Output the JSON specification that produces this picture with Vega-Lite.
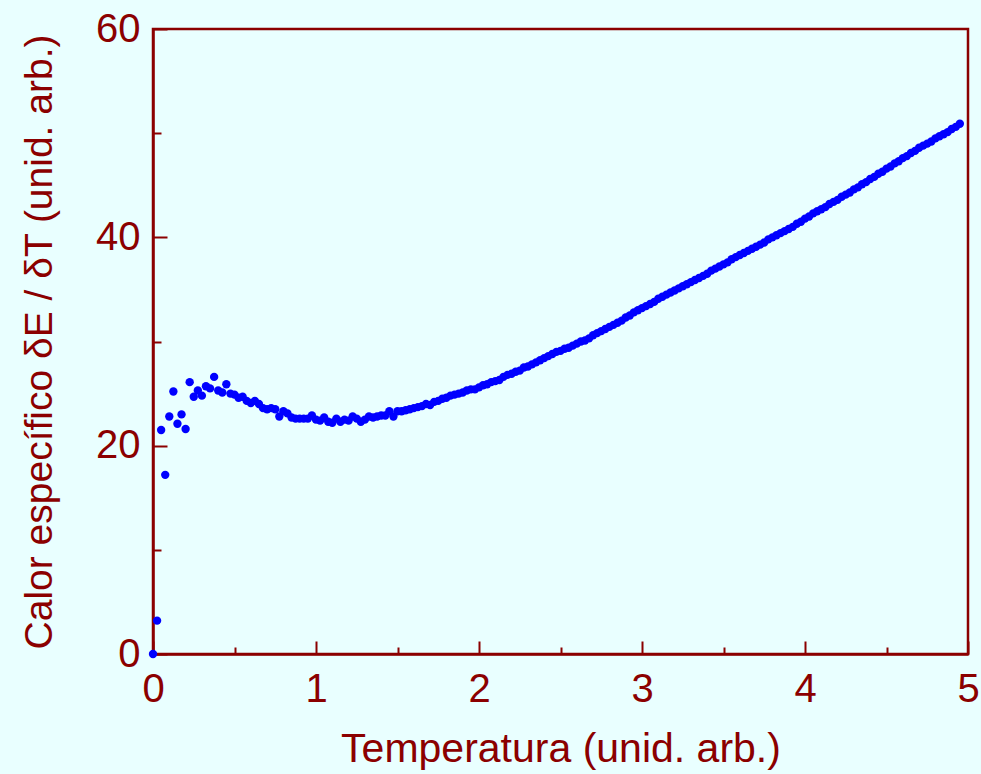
{
  "$schema": "https://vega.github.io/schema/vega-lite/v6.json",
  "width": 815,
  "height": 625,
  "autosize": {"type": "none"},
  "padding": {"left": 153, "top": 29, "right": 13, "bottom": 120},
  "background": "#E9FFFF",
  "config": {
    "view": {"stroke": "#8B0000", "strokeWidth": 2.5},
    "font": "Liberation Sans",
    "axis": {
      "domainColor": "#8B0000",
      "domainWidth": 2.5,
      "tickColor": "#8B0000",
      "tickWidth": 2,
      "labelColor": "#8B0000",
      "titleColor": "#8B0000",
      "labelFont": "Liberation Sans",
      "titleFont": "Liberation Sans",
      "labelFontSize": 40,
      "titleFontSize": 41,
      "titleFontWeight": "normal",
      "labelFlush": false,
      "labelOverlap": false,
      "labelBound": false,
      "grid": false
    }
  },
  "data": {
    "values": [
      {"T": 0.0, "C": 0}, {"T": 0.025, "C": 3.2}, {"T": 0.05, "C": 21.5}, {"T": 0.075, "C": 17.2},
      {"T": 0.1, "C": 22.8}, {"T": 0.125, "C": 25.2}, {"T": 0.15, "C": 22.1}, {"T": 0.175, "C": 23.0},
      {"T": 0.2, "C": 21.6}, {"T": 0.225, "C": 26.1}, {"T": 0.25, "C": 24.7}, {"T": 0.275, "C": 25.3},
      {"T": 0.3, "C": 24.8}, {"T": 0.325, "C": 25.7}, {"T": 0.35, "C": 25.5}, {"T": 0.375, "C": 26.6},
      {"T": 0.4, "C": 25.3}, {"T": 0.425, "C": 25.1}, {"T": 0.45, "C": 25.9}, {"T": 0.475, "C": 25.0},
      {"T": 0.5, "C": 24.9}, {"T": 0.525, "C": 24.6}, {"T": 0.55, "C": 24.7}, {"T": 0.575, "C": 24.3},
      {"T": 0.6, "C": 24.1}, {"T": 0.625, "C": 24.3}, {"T": 0.65, "C": 24.0}, {"T": 0.675, "C": 23.6},
      {"T": 0.7, "C": 23.5}, {"T": 0.725, "C": 23.6}, {"T": 0.75, "C": 23.5}, {"T": 0.775, "C": 22.8},
      {"T": 0.8, "C": 23.3}, {"T": 0.825, "C": 23.1}, {"T": 0.85, "C": 22.7}, {"T": 0.875, "C": 22.6},
      {"T": 0.9, "C": 22.6}, {"T": 0.925, "C": 22.6}, {"T": 0.95, "C": 22.6}, {"T": 0.975, "C": 22.9},
      {"T": 1.0, "C": 22.5}, {"T": 1.025, "C": 22.4}, {"T": 1.05, "C": 22.7}, {"T": 1.075, "C": 22.3},
      {"T": 1.1, "C": 22.2}, {"T": 1.125, "C": 22.6}, {"T": 1.15, "C": 22.3}, {"T": 1.175, "C": 22.5},
      {"T": 1.2, "C": 22.4}, {"T": 1.225, "C": 22.8}, {"T": 1.25, "C": 22.6}, {"T": 1.275, "C": 22.3},
      {"T": 1.3, "C": 22.5}, {"T": 1.325, "C": 22.8}, {"T": 1.35, "C": 22.7}, {"T": 1.375, "C": 22.8},
      {"T": 1.4, "C": 22.9}, {"T": 1.425, "C": 22.9}, {"T": 1.45, "C": 23.3}, {"T": 1.475, "C": 22.8},
      {"T": 1.5, "C": 23.3}, {"T": 1.525, "C": 23.3}, {"T": 1.55, "C": 23.4}, {"T": 1.575, "C": 23.5},
      {"T": 1.6, "C": 23.6}, {"T": 1.625, "C": 23.7}, {"T": 1.65, "C": 23.8}, {"T": 1.675, "C": 24.0},
      {"T": 1.7, "C": 23.9}, {"T": 1.725, "C": 24.2}, {"T": 1.75, "C": 24.3}, {"T": 1.775, "C": 24.5},
      {"T": 1.8, "C": 24.6}, {"T": 1.825, "C": 24.8}, {"T": 1.85, "C": 24.9}, {"T": 1.875, "C": 25.0},
      {"T": 1.9, "C": 25.1}, {"T": 1.925, "C": 25.3}, {"T": 1.95, "C": 25.4}, {"T": 1.975, "C": 25.4},
      {"T": 2.0, "C": 25.6}, {"T": 2.025, "C": 25.8}, {"T": 2.05, "C": 25.9}, {"T": 2.075, "C": 26.1},
      {"T": 2.1, "C": 26.2}, {"T": 2.125, "C": 26.3}, {"T": 2.15, "C": 26.6}, {"T": 2.175, "C": 26.8},
      {"T": 2.2, "C": 26.9}, {"T": 2.225, "C": 27.1}, {"T": 2.25, "C": 27.2}, {"T": 2.275, "C": 27.5},
      {"T": 2.3, "C": 27.6}, {"T": 2.325, "C": 27.8}, {"T": 2.35, "C": 28.0}, {"T": 2.375, "C": 28.2},
      {"T": 2.4, "C": 28.4}, {"T": 2.425, "C": 28.6}, {"T": 2.45, "C": 28.8}, {"T": 2.475, "C": 29.0},
      {"T": 2.5, "C": 29.1}, {"T": 2.525, "C": 29.3}, {"T": 2.55, "C": 29.4}, {"T": 2.575, "C": 29.6},
      {"T": 2.6, "C": 29.8}, {"T": 2.625, "C": 30.0}, {"T": 2.65, "C": 30.1}, {"T": 2.675, "C": 30.3},
      {"T": 2.7, "C": 30.6}, {"T": 2.725, "C": 30.8}, {"T": 2.75, "C": 31.0}, {"T": 2.775, "C": 31.2},
      {"T": 2.8, "C": 31.4}, {"T": 2.825, "C": 31.6}, {"T": 2.85, "C": 31.8}, {"T": 2.875, "C": 32.0},
      {"T": 2.9, "C": 32.3}, {"T": 2.925, "C": 32.5}, {"T": 2.95, "C": 32.8}, {"T": 2.975, "C": 33.0},
      {"T": 3.0, "C": 33.2}, {"T": 3.025, "C": 33.4}, {"T": 3.05, "C": 33.6}, {"T": 3.075, "C": 33.8},
      {"T": 3.1, "C": 34.1}, {"T": 3.125, "C": 34.3}, {"T": 3.15, "C": 34.5}, {"T": 3.175, "C": 34.7},
      {"T": 3.2, "C": 34.9}, {"T": 3.225, "C": 35.1}, {"T": 3.25, "C": 35.3}, {"T": 3.275, "C": 35.5},
      {"T": 3.3, "C": 35.7}, {"T": 3.325, "C": 35.9}, {"T": 3.35, "C": 36.1}, {"T": 3.375, "C": 36.3},
      {"T": 3.4, "C": 36.5}, {"T": 3.425, "C": 36.8}, {"T": 3.45, "C": 37.0}, {"T": 3.475, "C": 37.2},
      {"T": 3.5, "C": 37.4}, {"T": 3.525, "C": 37.6}, {"T": 3.55, "C": 37.9}, {"T": 3.575, "C": 38.1},
      {"T": 3.6, "C": 38.3}, {"T": 3.625, "C": 38.5}, {"T": 3.65, "C": 38.7}, {"T": 3.675, "C": 38.9},
      {"T": 3.7, "C": 39.1}, {"T": 3.725, "C": 39.3}, {"T": 3.75, "C": 39.5}, {"T": 3.775, "C": 39.8},
      {"T": 3.8, "C": 40.0}, {"T": 3.825, "C": 40.2}, {"T": 3.85, "C": 40.4}, {"T": 3.875, "C": 40.6},
      {"T": 3.9, "C": 40.8}, {"T": 3.925, "C": 41.0}, {"T": 3.95, "C": 41.3}, {"T": 3.975, "C": 41.5},
      {"T": 4.0, "C": 41.8}, {"T": 4.025, "C": 42.0}, {"T": 4.05, "C": 42.3}, {"T": 4.075, "C": 42.5},
      {"T": 4.1, "C": 42.7}, {"T": 4.125, "C": 42.9}, {"T": 4.15, "C": 43.2}, {"T": 4.175, "C": 43.4},
      {"T": 4.2, "C": 43.6}, {"T": 4.225, "C": 43.9}, {"T": 4.25, "C": 44.1}, {"T": 4.275, "C": 44.3},
      {"T": 4.3, "C": 44.6}, {"T": 4.325, "C": 44.8}, {"T": 4.35, "C": 45.1}, {"T": 4.375, "C": 45.3},
      {"T": 4.4, "C": 45.6}, {"T": 4.425, "C": 45.8}, {"T": 4.45, "C": 46.1}, {"T": 4.475, "C": 46.3},
      {"T": 4.5, "C": 46.6}, {"T": 4.525, "C": 46.8}, {"T": 4.55, "C": 47.1}, {"T": 4.575, "C": 47.3},
      {"T": 4.6, "C": 47.6}, {"T": 4.625, "C": 47.8}, {"T": 4.65, "C": 48.1}, {"T": 4.675, "C": 48.3},
      {"T": 4.7, "C": 48.6}, {"T": 4.725, "C": 48.8}, {"T": 4.75, "C": 49.0}, {"T": 4.775, "C": 49.2},
      {"T": 4.8, "C": 49.5}, {"T": 4.825, "C": 49.7}, {"T": 4.85, "C": 49.9}, {"T": 4.875, "C": 50.1},
      {"T": 4.9, "C": 50.4}, {"T": 4.925, "C": 50.6}, {"T": 4.95, "C": 50.9}
    ]
  },
  "mark": {"type": "circle", "size": 70, "color": "#0000FF", "opacity": 1},
  "encoding": {
    "x": {
      "field": "T",
      "type": "quantitative",
      "scale": {"domain": [0, 5], "nice": false, "zero": false},
      "axis": {
        "title": "Temperatura (unid. arb.)",
        "values": [0, 0.5, 1, 1.5, 2, 2.5, 3, 3.5, 4, 4.5, 5],
        "labelExpr": "datum.value % 1 === 0 ? format(datum.value, 'd') : ''",
        "tickSize": {"condition": {"test": "datum.value % 1 === 0", "value": -13}, "value": -7},
        "labelPadding": 28,
        "titlePadding": 14
      }
    },
    "y": {
      "field": "C",
      "type": "quantitative",
      "scale": {"domain": [0, 60], "nice": false, "zero": false},
      "axis": {
        "title": "Calor específico δE / δT (unid. arb.)",
        "titleFontSize": 39,
        "values": [0, 10, 20, 30, 40, 50, 60],
        "labelExpr": "datum.value % 20 === 0 ? format(datum.value, 'd') : ''",
        "tickSize": {"condition": {"test": "datum.value % 20 === 0", "value": -14}, "value": -8},
        "labelPadding": 27,
        "titlePadding": 36
      }
    }
  }
}
